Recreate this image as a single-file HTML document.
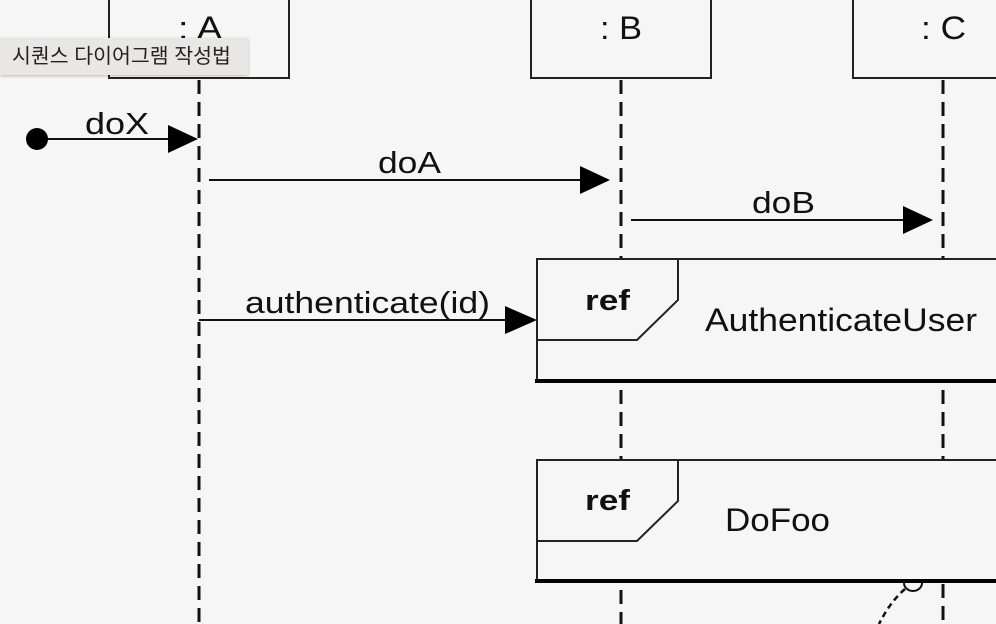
<!DOCTYPE html>
<html><head><meta charset="utf-8"><style>
html,body{margin:0;padding:0;background:#f6f6f6;width:996px;height:624px;overflow:hidden}
svg{display:block}
text{font-family:"Liberation Sans",Arial,sans-serif;fill:#111}
.tip{position:absolute;left:0;top:38px;width:248px;height:37px;background:#e9e7e4;box-shadow:0 1px 3px rgba(0,0,0,.25);font-family:"Liberation Sans","Noto Sans CJK KR",sans-serif;font-size:20.5px;color:#222;line-height:37px;padding-left:12px;box-sizing:border-box;white-space:nowrap}
</style></head><body>
<svg width="996" height="624" viewBox="0 0 996 624" xmlns="http://www.w3.org/2000/svg">
<rect width="996" height="624" fill="#f6f6f6"/>
<g fill="none" stroke="#222" stroke-width="2">
<rect x="109" y="-10" width="180" height="88"/>
<rect x="531" y="-10" width="180" height="88"/>
<rect x="853" y="-10" width="160" height="88"/>
</g>
<text x="178" y="39" font-size="32" textLength="44" lengthAdjust="spacingAndGlyphs">: A</text>
<text x="600" y="39" font-size="32" textLength="42" lengthAdjust="spacingAndGlyphs">: B</text>
<text x="921" y="39" font-size="32" textLength="45" lengthAdjust="spacingAndGlyphs">: C</text>
<g stroke="#111" stroke-width="3" stroke-dasharray="14,8">
<line x1="199" y1="80" x2="199" y2="624"/>
<line x1="621" y1="80" x2="621" y2="259"/>
<line x1="943" y1="80" x2="943" y2="259"/>
<line x1="621" y1="390" x2="621" y2="460"/>
<line x1="943" y1="390" x2="943" y2="460"/>
<line x1="621" y1="590" x2="621" y2="624"/>
<line x1="943" y1="584" x2="943" y2="624"/>
</g>
<g stroke="#111" stroke-width="2">
<line x1="37" y1="139" x2="170" y2="139"/>
<line x1="209" y1="180" x2="582" y2="180"/>
<line x1="631" y1="220" x2="905" y2="220"/>
<line x1="199" y1="320" x2="507" y2="320"/>
</g>
<circle cx="37" cy="139" r="11" fill="#000"/>
<g fill="#000">
<polygon points="168,125 198,139 168,153"/>
<polygon points="580,166 610,180 580,194"/>
<polygon points="903,206 933,220 903,234"/>
<polygon points="505,306 537,320 505,334"/>
</g>
<text x="85" y="134" font-size="31" textLength="64" lengthAdjust="spacingAndGlyphs">doX</text>
<text x="378" y="173" font-size="31" textLength="63" lengthAdjust="spacingAndGlyphs">doA</text>
<text x="752" y="213" font-size="31" textLength="63" lengthAdjust="spacingAndGlyphs">doB</text>
<text x="245" y="313" font-size="31" textLength="245" lengthAdjust="spacingAndGlyphs">authenticate(id)</text>
<g fill="none" stroke="#222" stroke-width="2">
<path d="M1000,259 H537 V381"/>
<path d="M537,259 H678 V300 L637,340 H537"/>
<path d="M1000,460 H537 V581"/>
<path d="M537,460 H678 V501 L637,541 H537"/>
</g>
<line x1="535" y1="381" x2="996" y2="381" stroke="#000" stroke-width="4"/>
<line x1="535" y1="581" x2="996" y2="581" stroke="#000" stroke-width="4"/>
<text x="585" y="310" font-size="29" font-weight="bold" textLength="45" lengthAdjust="spacingAndGlyphs">ref</text>
<text x="585" y="510" font-size="29" font-weight="bold" textLength="45" lengthAdjust="spacingAndGlyphs">ref</text>
<text x="705" y="331" font-size="32" textLength="272" lengthAdjust="spacingAndGlyphs">AuthenticateUser</text>
<text x="725" y="531" font-size="32" textLength="105" lengthAdjust="spacingAndGlyphs">DoFoo</text>
<path d="M904,583 A9,8 0 0 0 922,583" fill="none" stroke="#111" stroke-width="2"/>
<path d="M905,589 Q890,602 879,624" fill="none" stroke="#111" stroke-width="2.5" stroke-dasharray="6,4"/>
</svg>
<div class="tip">시퀀스 다이어그램 작성법</div>
</body></html>
